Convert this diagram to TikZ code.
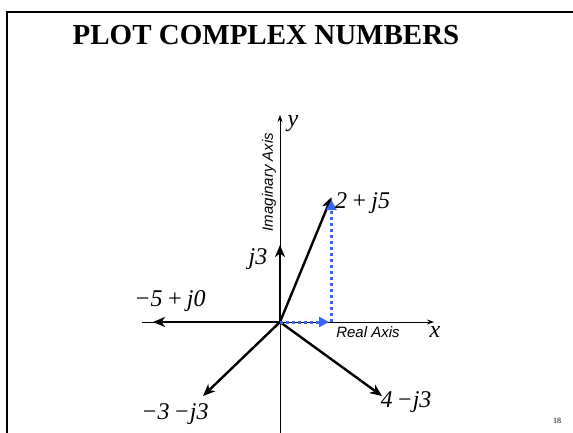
\documentclass[tikz,border=0pt]{standalone}
\usepackage{fontspec}
\setmainfont{Liberation Serif}
\setsansfont{Liberation Sans}
\usetikzlibrary{arrows.meta}
\definecolor{vecblue}{HTML}{3366FF}
\begin{document}
\begin{tikzpicture}[x=1pt,y=-1pt,
  axisline/.style={line width=0.9pt,-{Stealth[length=7pt,width=5pt]}},
  vec/.style={line width=2.4pt,-{Stealth[length=12pt,width=10pt,inset=3.5pt]}},
  comp/.style={vecblue,line width=3pt,dash pattern=on 3pt off 3pt,-{Triangle[length=10pt,width=10pt]}},
  lbl/.style={font=\fontsize{24}{24}\selectfont\itshape,inner sep=0pt},
  axlbl/.style={font=\fontsize{15}{15}\selectfont\sffamily\itshape,inner sep=0pt}]
\useasboundingbox (0,0) rectangle (573,433);
% frame
\draw[line width=2pt] (7,433) -- (7,12) -- (573,12);
% title
\node[font=\fontsize{29}{29}\selectfont\bfseries,inner sep=0pt] (title) at (266,35) {PLOT COMPLEX NUMBERS};
% coordinates
\coordinate (O) at (280,322);
\coordinate (xL) at (142,322);
\coordinate (xR) at (434,322);
\coordinate (yT) at (280,115);
\coordinate (yB) at (280,433);
\coordinate (A) at (331.5,197);
\coordinate (B) at (153,322);
\coordinate (C) at (280,245);
\coordinate (D) at (382,396);
\coordinate (E) at (203,396);
\coordinate (Ax) at (329,322);
\coordinate (Ab) at (331.5,322);
\coordinate (At) at (331.5,200);
% axes
\draw[line width=0.9pt] (xL) -- (O);
\draw[axisline] (O) -- (xR);
\draw[axisline] (yB) -- (yT);
% vectors
\draw[vec] (O) -- (B);
\draw[vec] (O) -- (C);
\draw[vec] (O) -- (A);
\draw[vec] (O) -- (D);
\draw[vec] (O) -- (E);
% components
\draw[comp] (O) -- (Ax);
\draw[comp] (Ab) -- (At);
% labels
\node[lbl] (ly) at (293,124) {y};
\node[lbl] (lx) at (435,332) {x};
\node[axlbl,rotate=90] (lim) at (269,182) {Imaginary Axis};
\node[axlbl] (lre) at (368,332) {Real Axis};
\node[lbl,anchor=west] (lA) at (335,203) {2\,+\,j5};
\node[lbl] (lC) at (258,259) {j3};
\node[lbl] (lB) at (170,301) {−5\,+\,j0};
\node[lbl] (lE) at (175,414) {−3\,−j3};
\node[lbl] (lD) at (406,402) {4\,−j3};
\node[font=\fontsize{8}{8}\selectfont,inner sep=0pt] (pg) at (557,421) {18};
\end{tikzpicture}
\end{document}
